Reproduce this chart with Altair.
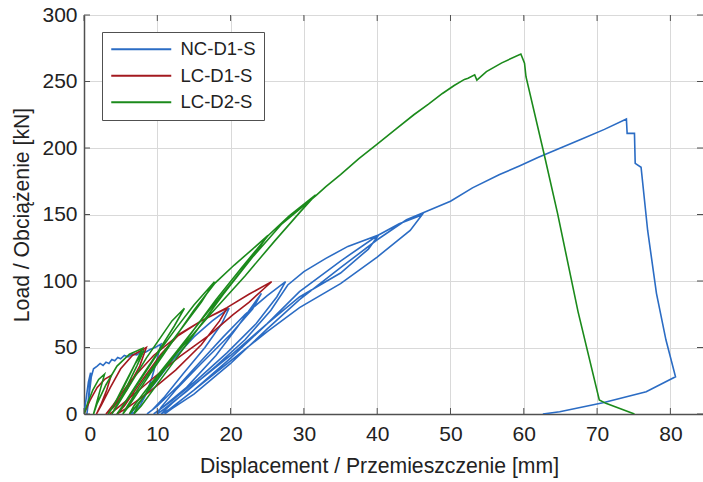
import altair as alt
import pandas as pd

x_ticks = [0, 10, 20, 30, 40, 50, 60, 70, 80]
y_ticks = [0, 50, 100, 150, 200, 250, 300]
series_names = ["NC-D1-S", "LC-D1-S", "LC-D2-S"]
series_colors = ["#2b6cc4", "#a3191f", "#1b8a1b"]

# NC-D1-S (blue)
nc_x = [0, 0.3, 0.6, 0.9, 0.7, 0.5, 0.4, 0.7, 1.0, 1.3, 1.8, 2.2, 2.6, 3.0, 3.4, 3.8, 4.2, 4.6, 5.0, 5.5, 6.0, 6.6, 7.2, 7.8, 8.4, 9.0, 9.7, 10.5,
        10.0, 9.3, 8.5, 7.6, 6.8, 6.3,
        7.2, 9.5, 12, 15, 17.5, 19.8,
        18.8, 16.5, 13.5, 11, 9.3, 8.6,
        10, 13, 16, 19, 22, 25, 27.5,
        26.3, 23.5, 19.5, 15.5, 12, 10, 9.5,
        10.5, 14, 18, 21, 24.2,
        23, 20, 16, 12.5, 10.5, 10,
        11, 14, 18, 22, 25.5, 27.8, 30, 33, 36, 40.2,
        38.8, 35, 29.4, 25, 20, 15, 12, 10.5,
        11.5, 15, 20, 25, 29.4, 35, 40, 43, 46.1,
        44.5, 40, 35, 29.4, 25, 20, 15, 12, 11,
        12, 15, 20, 25, 29.4, 35, 40, 44, 47, 50, 53, 56.7, 59.4, 62, 65, 68, 71, 74,
        74.1, 75.1, 75.2, 76, 76.9, 78.1, 79.4, 80.7,
        76.7, 70.8, 64.9, 62.6]
nc_y = [0, 12, 24, 31, 18, 5, 0, 14, 28, 34, 36, 38, 36.5, 39, 38, 41, 40, 42.5, 41.5, 44, 43, 45, 44.5, 47, 46.5, 48.5, 50, 52.5,
        42, 28, 15, 6, 1, 0,
        6, 22, 40, 58, 70, 79.5,
        68, 50, 30, 13, 3, 0,
        6, 22, 40, 58, 75, 89, 99.5,
        88, 68, 46, 26, 10, 2, 0,
        4, 20, 44, 66, 90.7,
        79, 60, 38, 18, 5, 0,
        4, 17, 36, 56, 78, 97, 107, 117, 126, 134.6,
        124, 106, 88, 68, 44, 22, 8, 0,
        3, 18, 42, 68, 92, 115, 134, 143, 149.6,
        138, 118, 98, 80, 62, 40, 18, 5, 0,
        4, 15, 38, 64, 86, 110, 131, 146, 153, 160, 170, 180, 186.5, 193, 200, 207, 214, 221.8,
        211, 211, 188.5, 185.5, 138, 90.7, 55.6, 28,
        16.8, 8.5, 1.7, 0]

# LC-D1-S (red)
lc1_x = [0, 0.8, 1.8, 2.8, 3.7,
         3.1, 2.3, 1.7,
         2.4, 3.6, 5, 6.6, 8.5,
         7.6, 5.8, 4, 3.0,
         4, 6.5, 9.5, 12.6, 16, 19.5,
         18.5, 16, 12.5, 9, 6, 4.5,
         5.5, 8, 10.5, 13, 16, 19.5, 22.5, 25.6,
         24.5, 22.5, 20.3, 17, 13, 9, 6, 4, 3.5]
lc1_y = [0, 10, 20, 26, 29,
         18, 7, 0,
         7, 20, 34, 44, 50,
         36, 18, 5, 0,
         7, 26, 44, 58, 70, 79.5,
         70, 52, 33, 17, 5, 0,
         6, 26, 45, 60, 70, 80, 90, 99.5,
         94, 84, 74.5, 59, 43, 25, 11, 2, 0]

# LC-D2-S (green)
lc2_x = [0, 0.5, 1.2, 2.0, 2.8,
         2.3, 1.7, 1.3,
         1.8, 3.0, 4.5, 6.2, 8.0,
         7.0, 5.4, 4.0, 3.3,
         4, 5.5, 7, 8.2,
         7.2, 5.6, 4.2, 3.8,
         4.5, 6.5, 8.5, 10.5, 12, 13.7,
         12.3, 10, 7.5, 5.5, 4.5,
         5.2, 7.5, 10, 12.5, 15, 17.8,
         16, 13, 10, 7.5, 5.8, 5.3,
         6, 9, 12, 15, 17.8, 20.5, 23, 25.1,
         23.5, 20.5, 16.5, 12.5, 9, 6.8, 6.2,
         7, 10, 14, 18, 21.5, 25.1, 28, 31.6,
         29.5, 26, 22, 17.4, 13, 9.5, 7.5, 6.8,
         7.8, 11, 15, 19, 23, 27, 31.6, 33, 35, 37.5, 40, 42.5, 45, 47, 48.9, 50.5, 51.9, 52.4, 53.3, 53.6, 54.9, 57, 59.6,
         60.1, 60.3, 62.8, 64.6, 67.4, 70.3, 71.2, 75.1]
lc2_y = [0, 8, 18, 26, 30,
         20, 8, 0,
         8, 22, 36, 45, 49.4,
         38, 20, 6, 0,
         6, 22, 38, 48,
         36, 18, 4, 0,
         6, 24, 42, 58, 70, 79.5,
         66, 46, 25, 8, 0,
         5, 24, 45, 64, 82, 99.5,
         84, 62, 40, 20, 5, 0,
         5, 30, 54, 78, 98, 112, 124, 134.3,
         122, 101, 74, 46, 22, 6, 0,
         5, 26, 56, 86, 110, 134, 149, 164.7,
         152, 130, 104, 76, 48, 24, 8, 0,
         6, 30, 60, 90, 118, 143, 164, 171, 180, 192, 203, 214, 225, 233, 241, 247, 251.6, 252.4, 255, 251, 257.4, 264, 270.7,
         263.7, 253.6, 194.7, 151, 77, 10.5, 8, 0]


def frame(name, xs, ys):
    return pd.DataFrame({"x": xs, "y": ys, "s": name, "i": list(range(len(xs)))})


W, H = 619, 399
FONT = "Liberation Sans"
AX = "#505050"
TXT = "#222222"
xscale = alt.Scale(domain=[0, 84.45], nice=False, zero=False)
yscale = alt.Scale(domain=[0, 300], nice=False)

common = dict(grid=True, tickSize=0, format="d",
              labelFont=FONT, titleFont=FONT, labelFontSize=21, titleFontSize=21.2,
              labelColor=TXT, titleColor=TXT, titleFontWeight="normal",
              domainColor=AX, domainWidth=1.5, gridColor="#d9d9d9", gridWidth=1)
x_axis = alt.Axis(values=x_ticks, title="Displacement / Przemieszczenie [mm]",
                  labelPadding=9, titlePadding=11, titleX=295, **common)
y_axis = alt.Axis(values=y_ticks, title="Load / Obciążenie [kN]",
                  labelPadding=7, titlePadding=9, **common)

color = alt.Color("s:N", scale=alt.Scale(domain=series_names, range=series_colors),
                  legend=alt.Legend(title=None, orient="none", legendX=18, legendY=17,
                                    symbolType="M-6,0H6", symbolSize=100, symbolStrokeWidth=1.8,
                                    symbolOffset=22, labelOffset=30,
                                    labelFontSize=18.5, labelFont=FONT, labelColor=TXT,
                                    strokeColor=AX, fillColor="white", padding=8,
                                    rowPadding=7.5))


def line(df):
    return alt.Chart(df).mark_line(strokeWidth=1.6, clip=True).encode(
        x=alt.X("x:Q", scale=xscale, axis=x_axis),
        y=alt.Y("y:Q", scale=yscale, axis=y_axis),
        color=color, order=alt.Order("i:Q"))


layers = [line(frame(series_names[0], nc_x, nc_y)),
          line(frame(series_names[1], lc1_x, lc1_y)),
          line(frame(series_names[2], lc2_x, lc2_y))]

xt = pd.DataFrame({"x": x_ticks})
yt = pd.DataFrame({"y": y_ticks})
tx = alt.X("x:Q", scale=xscale, axis=x_axis)
ty = alt.Y("y:Q", scale=yscale, axis=y_axis)
ticks = [
    alt.Chart(xt).mark_rule(color=AX, strokeWidth=1).encode(x=tx, y=alt.value(H), y2=alt.value(H - 6)),
    alt.Chart(xt).mark_rule(color=AX, strokeWidth=1).encode(x=tx, y=alt.value(0), y2=alt.value(6)),
    alt.Chart(yt).mark_rule(color=AX, strokeWidth=1).encode(y=ty, x=alt.value(0), x2=alt.value(6)),
    alt.Chart(yt).mark_rule(color=AX, strokeWidth=1).encode(y=ty, x=alt.value(W), x2=alt.value(W - 6)),
]

chart = alt.layer(*layers, *ticks).properties(
    width=W, height=H,
    autosize=alt.AutoSizeParams(type="none"),
    padding={"left": 84, "top": 15, "right": 0, "bottom": 68},
).configure_view(
    stroke=AX, strokeWidth=1
).configure(background="white")

chart.save("out.html", embed_options={"renderer": "svg", "actions": False})
